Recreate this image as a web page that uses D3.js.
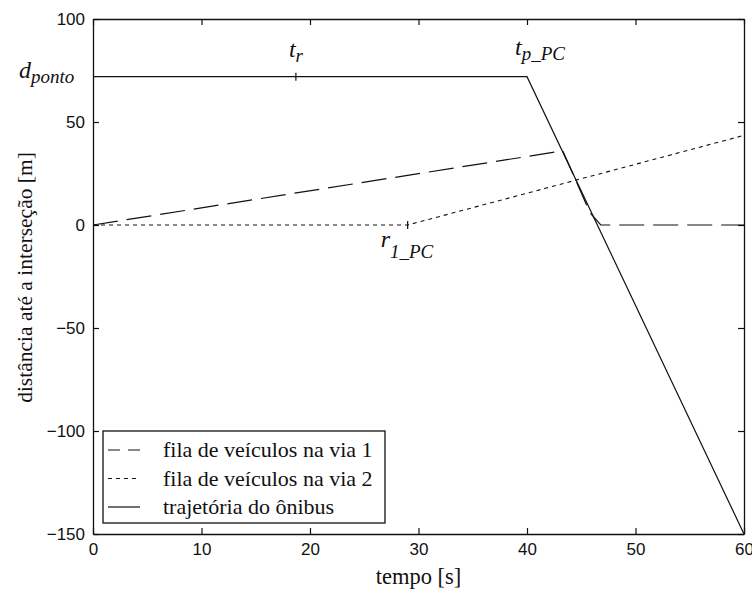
<!DOCTYPE html>
<html><head><meta charset="utf-8">
<script src="https://cdn.jsdelivr.net/npm/d3@7"></script>
<style>body{margin:0;background:#fff}svg{display:block}</style>
</head><body><svg id="c" width="752" height="591"></svg>
<script>
// Data
const busT = [0, 40, 60];
const busD = [72, 72, -150];
const fila1T = [0, 43.3, 45.8, 46.8, 60];
const fila1D = [0, 36, 6, 0, 0];
const fila2T = [0, 29, 60];
const fila2D = [0, 0, 43.5];
const xTicks = [0, 10, 20, 30, 40, 50, 60];
const yTicks = [-150, -100, -50, 0, 50, 100];
const legendLabels = ["fila de veículos na via 1", "fila de veículos na via 2", "trajetória do ônibus"];
const tR = 18.7, tPC = 40, r1PC = 29, dPonto = 72;

const svg = d3.select("#c");
const x = d3.scaleLinear().domain([0, 60]).range([93, 744]);
const y = d3.scaleLinear().domain([-150, 100]).range([534, 19]);
const ink = "#111";
const sans = "'Liberation Sans', Arial, sans-serif";
const serif = "'Liberation Serif', 'Times New Roman', serif";

function styleAxis(g) {
  g.select(".domain").attr("stroke", ink).attr("stroke-width", 1.3);
  g.selectAll(".tick line").attr("stroke", ink).attr("stroke-width", 1.2);
  g.selectAll(".tick text").attr("fill", ink).style("font-family", sans).style("font-size", "17px");
}
svg.append("g").attr("transform", `translate(0,${y(-150)})`)
  .call(d3.axisBottom(x).tickValues(xTicks).tickSize(-6).tickSizeOuter(0).tickPadding(9).tickFormat(d3.format("d")))
  .call(styleAxis);
svg.append("g").attr("transform", `translate(0,${y(100)})`)
  .call(d3.axisTop(x).tickValues(xTicks).tickSize(-6).tickSizeOuter(0).tickFormat(""))
  .call(styleAxis);
svg.append("g").attr("transform", `translate(${x(0)},0)`)
  .call(d3.axisLeft(y).tickValues(yTicks).tickSize(-6).tickSizeOuter(0).tickPadding(8).tickFormat(d3.format("d")))
  .call(styleAxis);
svg.append("g").attr("transform", `translate(${x(60)},0)`)
  .call(d3.axisRight(y).tickValues(yTicks).tickSize(-6).tickSizeOuter(0).tickFormat(""))
  .call(styleAxis);

const line = d3.line().x(d => x(d[0])).y(d => y(d[1]));
const pts = (T, D) => T.map((t, i) => [t, D[i]]);

svg.append("path").datum(pts(fila2T, fila2D)).attr("d", line)
  .attr("fill", "none").attr("stroke", ink).attr("stroke-width", 1.1).attr("stroke-dasharray", "4,4");
svg.append("path").datum(pts(fila1T, fila1D)).attr("d", line)
  .attr("fill", "none").attr("stroke", ink).attr("stroke-width", 1.2).attr("stroke-dasharray", "25,9");
svg.append("path").datum(pts(busT, busD)).attr("d", line)
  .attr("fill", "none").attr("stroke", ink).attr("stroke-width", 1.2);

// small marker ticks
svg.append("line").attr("x1", x(tR)).attr("x2", x(tR)).attr("y1", y(dPonto) - 4).attr("y2", y(dPonto) + 4)
  .attr("stroke", ink).attr("stroke-width", 1.2);
svg.append("line").attr("x1", x(r1PC)).attr("x2", x(r1PC)).attr("y1", y(0) - 4).attr("y2", y(0) + 4)
  .attr("stroke", ink).attr("stroke-width", 1.2);

// annotations
function ann(px, py, main, sub, subDy) {
  const t = svg.append("text").attr("x", px).attr("y", py)
    .style("font-family", serif).style("font-style", "italic").attr("fill", ink);
  t.append("tspan").text(main).style("font-size", "24px");
  t.append("tspan").text(sub).style("font-size", "19px").attr("dy", subDy);
}
ann(19, y(dPonto) + 1, "d", "ponto", 5);
ann(x(tR) - 7, y(dPonto) - 20, "t", "r", 5);
ann(x(tPC) - 12, y(dPonto) - 22, "t", "p_PC", 5);
ann(x(r1PC) - 27, y(0) + 22, "r", "1_PC", 11);

// axis labels
svg.append("text").attr("x", (x(0) + x(60)) / 2).attr("y", 584).attr("text-anchor", "middle")
  .style("font-family", serif).style("font-size", "22.5px").attr("fill", ink).text("tempo [s]");
svg.append("text").attr("transform", `translate(32,${(y(100) + y(-150)) / 2 + 1}) rotate(-90)`)
  .attr("text-anchor", "middle")
  .style("font-family", serif).style("font-size", "21.5px").attr("fill", ink).text("distância até a interseção [m]");

// legend
const lg = svg.append("g");
lg.append("rect").attr("x", 103).attr("y", 431).attr("width", 282).attr("height", 92)
  .attr("fill", "#fff").attr("stroke", ink).attr("stroke-width", 1.3);
const dashes = ["12,8", "4,4", null];
legendLabels.forEach((lab, i) => {
  const cy = 450 + i * 28.5;
  const l = lg.append("line").attr("x1", 108).attr("x2", 140).attr("y1", cy).attr("y2", cy)
    .attr("stroke", ink).attr("stroke-width", 1.2);
  if (dashes[i]) l.attr("stroke-dasharray", dashes[i]);
  lg.append("text").attr("x", 163).attr("y", cy + 7)
    .style("font-family", serif).style("font-size", "22px").attr("fill", ink).text(lab);
});
</script></body></html>
